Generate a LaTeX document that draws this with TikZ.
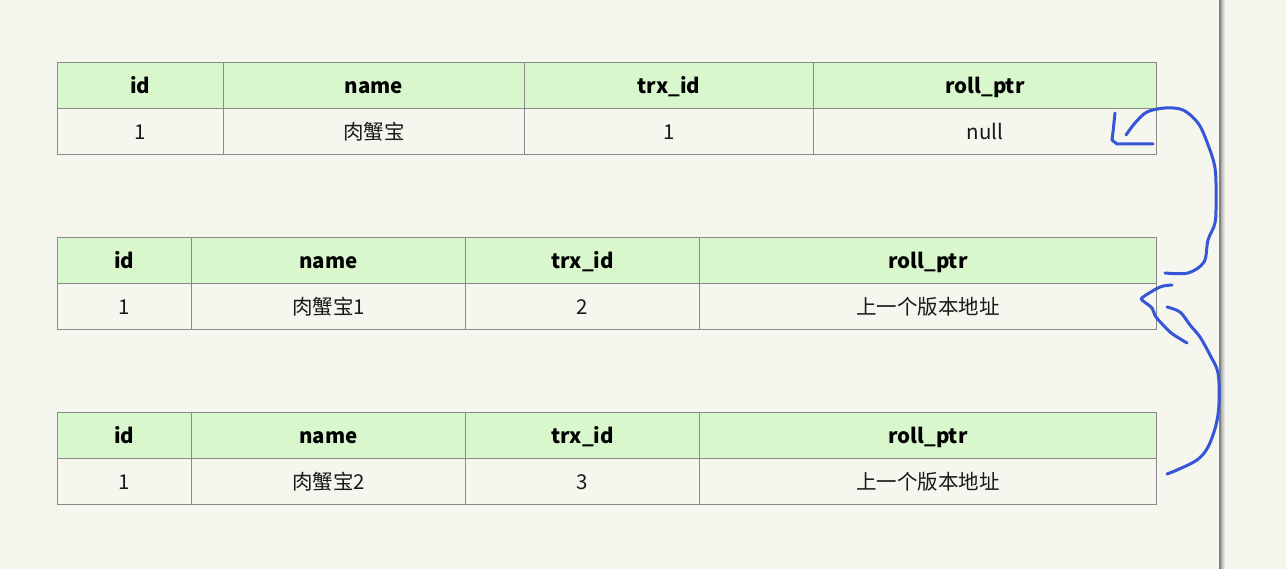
\documentclass[tikz,border=0pt]{standalone}
\usepackage{fontspec}
\setmainfont{Noto Sans CJK SC}
\definecolor{bg}{HTML}{F5F6EE}
\definecolor{hdr}{HTML}{D9F7CC}
\definecolor{grid}{HTML}{8A8A8A}
\definecolor{pen}{HTML}{3656D8}
\tikzset{
  cell/.style={draw=grid, line width=0.9pt, minimum height=46pt, inner sep=0pt, anchor=north west, text height=18pt, text depth=2pt, font=\fontsize{20.5}{20.5}\selectfont, text=black!90},
  head/.style={cell, fill=hdr, font=\fontsize{20.5}{20.5}\selectfont\bfseries, text=black},
  ink/.style={draw=pen, line width=3pt, line cap=round, line join=round}
}
\begin{document}
\begin{tikzpicture}[x=1pt,y=-1pt]
\fill[bg] (0,0) rectangle (1286,569);
\useasboundingbox (0,0) rectangle (1286,569);
% separator
\shade[left color=black!45, right color=bg] (1219,0) rectangle (1225,569);
\fill[black!50] (1219,0) rectangle (1220.5,569);

% table 1
\node[head, minimum width=166pt] (a1) at (57,62) {id};
\node[head, minimum width=301pt] (a2) at (223,62) {name};
\node[head, minimum width=289pt] (a3) at (524,62) {trx\_id};
\node[head, minimum width=343pt] (a4) at (813,62) {roll\_ptr};
\node[cell, minimum width=166pt] (a5) at (57,108) {1};
\node[cell, minimum width=301pt] (a6) at (223,108) {肉蟹宝};
\node[cell, minimum width=289pt] (a7) at (524,108) {1};
\node[cell, minimum width=343pt] (a8) at (813,108) {null};

% table 2
\node[head, minimum width=134pt] (b1) at (57,237) {id};
\node[head, minimum width=274pt] (b2) at (191,237) {name};
\node[head, minimum width=234pt] (b3) at (465,237) {trx\_id};
\node[head, minimum width=457pt] (b4) at (699,237) {roll\_ptr};
\node[cell, minimum width=134pt] (b5) at (57,283) {1};
\node[cell, minimum width=274pt] (b6) at (191,283) {肉蟹宝1};
\node[cell, minimum width=234pt] (b7) at (465,283) {2};
\node[cell, minimum width=457pt] (b8) at (699,283) {上一个版本地址};

% table 3
\node[head, minimum width=134pt] (c1) at (57,412) {id};
\node[head, minimum width=274pt] (c2) at (191,412) {name};
\node[head, minimum width=234pt] (c3) at (465,412) {trx\_id};
\node[head, minimum width=457pt] (c4) at (699,412) {roll\_ptr};
\node[cell, minimum width=134pt] (c5) at (57,458) {1};
\node[cell, minimum width=274pt] (c6) at (191,458) {肉蟹宝2};
\node[cell, minimum width=234pt] (c7) at (465,458) {3};
\node[cell, minimum width=457pt] (c8) at (699,458) {上一个版本地址};

% hand-drawn arrow 1 (table 2 -> table 1)
\draw[ink] (1115,113) -- (1113,132) -- (1112,140) -- (1117,144) -- (1153,144);
\draw[ink] plot[smooth, tension=0.55] coordinates {(1126,135) (1135,123) (1147,112) (1165,108) (1183,110) (1198,123) (1207,142) (1215,168) (1216,200) (1215,223) (1208,240) (1204,262) (1188,273) (1165,273)};

% hand-drawn arrow 2 (table 3 -> table 2)
\draw[ink] plot[smooth, tension=0.5] coordinates {(1172,285) (1160,287) (1143,297) (1142,300) (1152,308) (1156,317) (1170,332) (1182,340) (1187,343)};
\draw[ink] plot[smooth, tension=0.55] coordinates {(1167,307) (1180,312) (1190,325) (1200,337) (1210,355) (1218,373) (1219,403) (1216,425) (1208,447) (1197,460) (1177,470) (1167,474)};
\end{tikzpicture}
\end{document}
